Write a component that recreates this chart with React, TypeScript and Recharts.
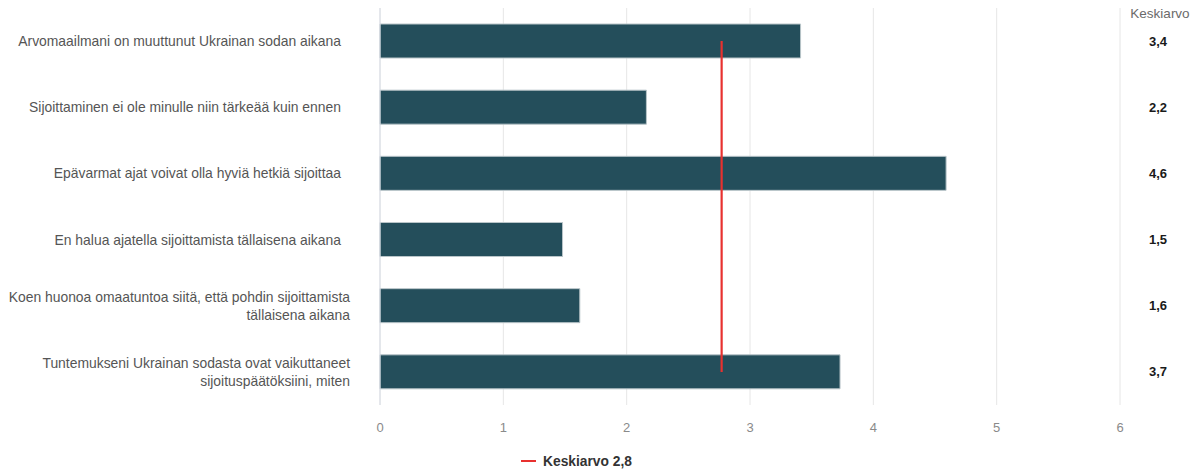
import {
  ComposedChart,
  Bar,
  Line,
  XAxis,
  YAxis,
  CartesianGrid,
  Legend,
} from "recharts";

// väittämät (rivitetty kuten kuvassa)
const statements: string[][] = [
  ["Arvomaailmani on muuttunut Ukrainan sodan aikana"],
  ["Sijoittaminen ei ole minulle niin tärkeää kuin ennen"],
  ["Epävarmat ajat voivat olla hyviä hetkiä sijoittaa"],
  ["En halua ajatella sijoittamista tällaisena aikana"],
  ["Koen huonoa omaatuntoa siitä, että pohdin sijoittamista", "tällaisena aikana"],
  ["Tuntemukseni Ukrainan sodasta ovat vaikuttaneet", "sijoituspäätöksiini, miten"],
];
const averages = [3.41, 2.16, 4.59, 1.48, 1.62, 3.73];
const overallAverage = 2.77;
const xTicks = [0, 1, 2, 3, 4, 5, 6];

const FONT = '"Liberation Sans", Arial, sans-serif';
const PLOT_LEFT = 380;
const PLOT_RIGHT = 1120;

const fmt = (v: number) => v.toFixed(1).replace(".", ",");

const data = statements.map((lines, i) => ({
  name: lines.join(" "),
  lines,
  value: averages[i],
  avg: overallAverage,
  valueLabel: fmt(averages[i]),
}));

const CategoryTick = ({ y, index }: any) => {
  const lines = data[index]?.lines ?? [];
  const endX = lines.length > 1 ? 350 : 341;
  const lh = 18;
  const startY = y - ((lines.length - 1) * lh) / 2;
  return (
    <text
      x={endX}
      y={startY}
      textAnchor="end"
      dominantBaseline="central"
      fill="#555"
      fontSize={13.9}
      fontFamily={FONT}
    >
      {lines.map((l: string, k: number) => (
        <tspan key={k} x={endX} y={startY + k * lh} dominantBaseline="central">
          {l}
        </tspan>
      ))}
    </text>
  );
};

const ValueTick = ({ y, payload }: any) => (
  <text
    x={1158}
    y={y}
    textAnchor="middle"
    dominantBaseline="central"
    fill="#1a1a1a"
    fontSize={13}
    fontWeight="bold"
    fontFamily={FONT}
  >
    {payload.value}
  </text>
);

const LegendContent = () => (
  <div
    style={{
      height: 20,
      display: "flex",
      alignItems: "center",
      paddingLeft: 521,
      fontFamily: FONT,
      fontSize: 13.8,
      fontWeight: "bold",
      color: "#333",
    }}
  >
    <span
      style={{ width: 15, height: 2.5, background: "#e8312f", marginRight: 7, display: "inline-block" }}
    />
    Keskiarvo {fmt(overallAverage)}
  </div>
);

export default function App() {
  return (
    <div
      style={{
        position: "absolute",
        left: 0,
        top: 0,
        width: 1202,
        height: 472,
        background: "#fff",
        fontFamily: FONT,
      }}
    >
      <div
        style={{
          position: "absolute",
          left: 1110,
          top: 6,
          width: 100,
          textAlign: "center",
          fontSize: 13.5,
          color: "#6b6b6b",
        }}
      >
        Keskiarvo
      </div>
      <ComposedChart
        width={1202}
        height={472}
        data={data}
        layout="vertical"
        margin={{ top: 8, right: 0, bottom: 17, left: 0 }}
      >
        <CartesianGrid horizontal={false} stroke="#e6e6e6" />
        <XAxis
          type="number"
          domain={[0, 6]}
          ticks={xTicks}
          axisLine={false}
          tickLine={false}
          height={30}
          tickMargin={12}
          tick={{ fill: "#8a8a8a", fontSize: 13, fontFamily: FONT }}
        />
        <YAxis
          yAxisId="left"
          type="category"
          dataKey="name"
          width={PLOT_LEFT}
          axisLine={{ stroke: "#d6dbe4" }}
          tickLine={false}
          tick={<CategoryTick />}
        />
        <YAxis
          yAxisId="right"
          orientation="right"
          type="category"
          dataKey="valueLabel"
          width={1202 - PLOT_RIGHT}
          axisLine={false}
          tickLine={false}
          tick={<ValueTick />}
        />
        <Legend
          verticalAlign="bottom"
          content={<LegendContent />}
          wrapperStyle={{ left: 0, top: 451, width: 1202 }}
        />
        <Bar
          yAxisId="left"
          dataKey="value"
          barSize={34}
          fill="#244e5b"
          stroke="#b9c5c9"
          strokeWidth={1}
          isAnimationActive={false}
          legendType="none"
        />
        <Line
          yAxisId="left"
          dataKey="avg"
          name="Keskiarvo"
          stroke="#e8312f"
          strokeWidth={2.2}
          dot={false}
          activeDot={false}
          isAnimationActive={false}
        />
      </ComposedChart>
    </div>
  );
}
